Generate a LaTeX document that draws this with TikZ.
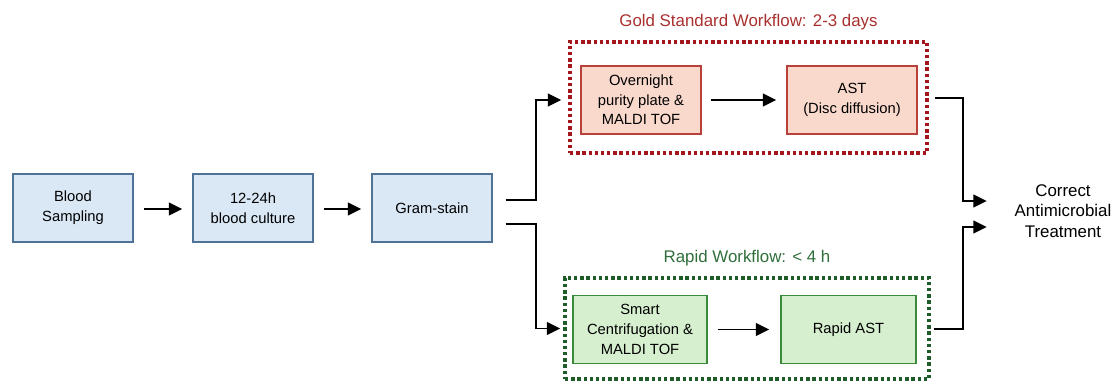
\documentclass[tikz,border=0pt]{standalone}
\usepackage{fontspec}
\setmainfont{Liberation Sans}
\usetikzlibrary{positioning,arrows.meta}

\definecolor{bluefill}{HTML}{DAE8F6}
\definecolor{blueline}{HTML}{4F7396}
\definecolor{redfill}{HTML}{F9D9CC}
\definecolor{redline}{HTML}{B8413A}
\definecolor{greenfill}{HTML}{D6EFCF}
\definecolor{greenline}{HTML}{3C8A3C}
\definecolor{golddots}{HTML}{A3161B}
\definecolor{rapiddots}{HTML}{1E5C2A}
\definecolor{goldtext}{HTML}{A8302E}
\definecolor{rapidtext}{HTML}{2F6E3A}

\begin{document}
\begin{tikzpicture}[x=0.025cm,y=-0.025cm]
        \tikzstyle{stage}=[rectangle,draw=blueline,fill=bluefill,line width=1pt,minimum width=3cm,minimum height=1.7cm,align=center,font=\fontsize{10.5}{14}\selectfont]
        \tikzstyle{gold stage}=[stage,draw=redline,fill=redfill];
        \tikzstyle{rapid stage}=[stage,draw=greenline,fill=greenfill];
        \tikzstyle{frame}=[rectangle,line width=2.4pt,dash pattern=on 2.4pt off 2pt];
        \tikzstyle{flow}=[line width=1.4pt,-{Triangle[length=9.5pt,width=9pt]}];
        \tikzstyle{title}=[font=\fontsize{12}{14}\selectfont];

        \useasboundingbox (0,0) rectangle (1116,381);

        % Common steps
        \node[stage] (blood) at (73,208) {Blood\\Sampling};
        \node[stage] (culture) at (253,208) {12-24h\\blood culture};
        \node[stage] (gram) at (432,208) {Gram-stain};

        % Gold standard workflow
        \node[frame,draw=golddots,minimum width=8.925cm,minimum height=2.775cm] (goldframe) at (748.5,97.5) {};
        \node[gold stage] (plate) at (641,100) {Overnight\\purity plate \&\\MALDI TOF};
        \node[gold stage,minimum width=3.25cm] (ast) at (852,100) {AST\\(Disc diffusion)};
        \node[title,text=goldtext,above=0.14cm of goldframe] {Gold Standard Workflow: 2-3 days};

        % Rapid workflow
        \node[frame,draw=rapiddots,minimum width=9.1cm,minimum height=2.525cm] (rapidframe) at (747,328.5) {};
        \node[rapid stage,minimum width=3.35cm] (centri) at (640,329.5) {Smart\\Centrifugation \&\\MALDI TOF};
        \node[rapid stage,minimum width=3.375cm] (rapidast) at (848.5,329.5) {Rapid AST};
        \node[title,text=rapidtext,above=0.14cm of rapidframe] {Rapid Workflow: < 4 h};

        % Outcome
        \node[align=center,font=\fontsize{12}{14.5}\selectfont] (treat) at (1063,211) {Correct\\Antimicrobial\\Treatment};

        % Connect nodes
        \draw[flow] ([shift={(10,1)}]blood.east) -- ([shift={(-10,1)}]culture.west);
        \draw[flow] ([shift={(10,1)}]culture.east) -- ([shift={(-10,1)}]gram.west);
        \draw[flow] ([shift={(9,0)}]plate.east) -- ([shift={(-10,0)}]ast.west);
        \draw[flow] ([shift={(10,0)}]centri.east) -- ([shift={(-11,0)}]rapidast.west);

        \draw[flow] ([shift={(13,-8)}]gram.east) -- ++(30,0) |- ([shift={(-7,2.5)}]goldframe.west);
        \draw[flow] ([shift={(13,16)}]gram.east) -- ++(30,0) |- ([shift={(-3,0)}]rapidframe.west);
        \draw[flow] ([shift={(6,0.5)}]goldframe.east) -- ++(28,0) |- ([shift={(-23,-10)}]treat.west);
        \draw[flow] ([shift={(3,0.5)}]rapidframe.east) -- ++(29,0) |- ([shift={(-23,16)}]treat.west);

    \end{tikzpicture}
\end{document}
